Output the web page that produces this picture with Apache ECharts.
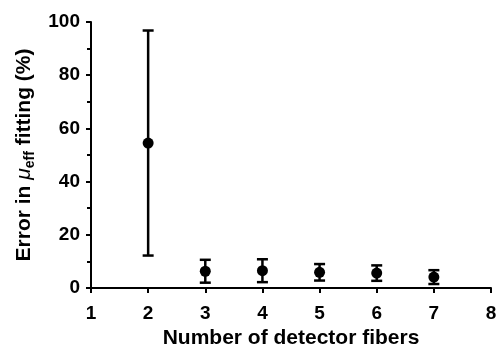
<!DOCTYPE html>
<html>
<head>
<meta charset="utf-8">
<script src="https://cdn.jsdelivr.net/npm/echarts@6/dist/echarts.min.js"></script>
<style>
  html, body { margin: 0; padding: 0; background: #fff; }
  #chart { width: 496px; height: 349px; }
</style>
</head>
<body>
<div id="chart"></div>
<script>
// 检测光纤数量
const fibers = [2, 3, 4, 5, 6, 7]
// 平均误差 (%)
const meanError = [54.5, 6.3, 6.5, 5.9, 5.6, 4.1]
// 误差棒 (±)
const errorSd = [42.3, 4.3, 4.3, 3.1, 2.9, 2.6]

const font = 'Liberation Sans, Arial, sans-serif'

let chart = echarts.init(document.getElementById('chart'))

let points = fibers.map((x, i) => [x, meanError[i]])
let bars = fibers.map((x, i) => [x, meanError[i] - errorSd[i], meanError[i] + errorSd[i]])

let options = {
  animation: false,
  grid: { left: 91, right: 5, top: 22, bottom: 61, outerBoundsMode: 'none' },
  xAxis: {
    type: 'value',
    min: 1,
    max: 8,
    interval: 1,
    name: 'Number of detector fibers',
    nameLocation: 'middle',
    nameGap: 36,
    nameTextStyle: { fontFamily: font, fontWeight: 'bold', fontSize: 21, color: '#000' },
    axisLine: { lineStyle: { color: '#000', width: 2 } },
    axisTick: { length: 5, lineStyle: { color: '#000', width: 2 } },
    axisLabel: { margin: 16, fontFamily: font, fontWeight: 'bold', fontSize: 19, color: '#000' },
    splitLine: { show: false }
  },
  yAxis: {
    type: 'value',
    min: 0,
    max: 100,
    interval: 20,
    name: '{a|Error in }{mu|μ}{sub|eff}{a| fitting (%)}',
    nameLocation: 'middle',
    nameGap: 53,
    nameRotate: 90,
    nameTextStyle: {
      rich: {
        a: { fontFamily: font, fontWeight: 'bold', fontSize: 21, color: '#000', lineHeight: 26 },
        mu: { fontFamily: font, fontStyle: 'italic', fontSize: 21, color: '#000', lineHeight: 26 },
        sub: { fontFamily: font, fontWeight: 'bold', fontSize: 14, color: '#000', lineHeight: 26, verticalAlign: 'bottom', padding: [9, 0, 0, 0] }
      }
    },
    axisLine: { show: true, lineStyle: { color: '#000', width: 2 } },
    axisTick: { show: true, length: 5, lineStyle: { color: '#000', width: 2 } },
    minorTick: { show: true, splitNumber: 2, length: 4, lineStyle: { color: '#000', width: 2 } },
    axisLabel: { margin: 11, fontFamily: font, fontWeight: 'bold', fontSize: 19, color: '#000' },
    splitLine: { show: false }
  },
  series: [
    {
      type: 'custom',
      data: bars,
      renderItem: function (params, api) {
        let x = api.value(0)
        let lo = api.coord([x, api.value(1)])
        let hi = api.coord([x, api.value(2)])
        let half = 5.5
        let style = { stroke: '#000', lineWidth: 2.5 }
        return {
          type: 'group',
          children: [
            { type: 'line', shape: { x1: lo[0], y1: lo[1], x2: hi[0], y2: hi[1] }, style: style },
            { type: 'line', shape: { x1: lo[0] - half, y1: lo[1], x2: lo[0] + half, y2: lo[1] }, style: style },
            { type: 'line', shape: { x1: hi[0] - half, y1: hi[1], x2: hi[0] + half, y2: hi[1] }, style: style }
          ]
        }
      },
      z: 2
    },
    {
      type: 'scatter',
      data: points,
      symbol: 'circle',
      symbolSize: 11,
      itemStyle: { color: '#000', opacity: 1 },
      z: 3
    }
  ]
}
chart.setOption(options)
</script>
</body>
</html>
